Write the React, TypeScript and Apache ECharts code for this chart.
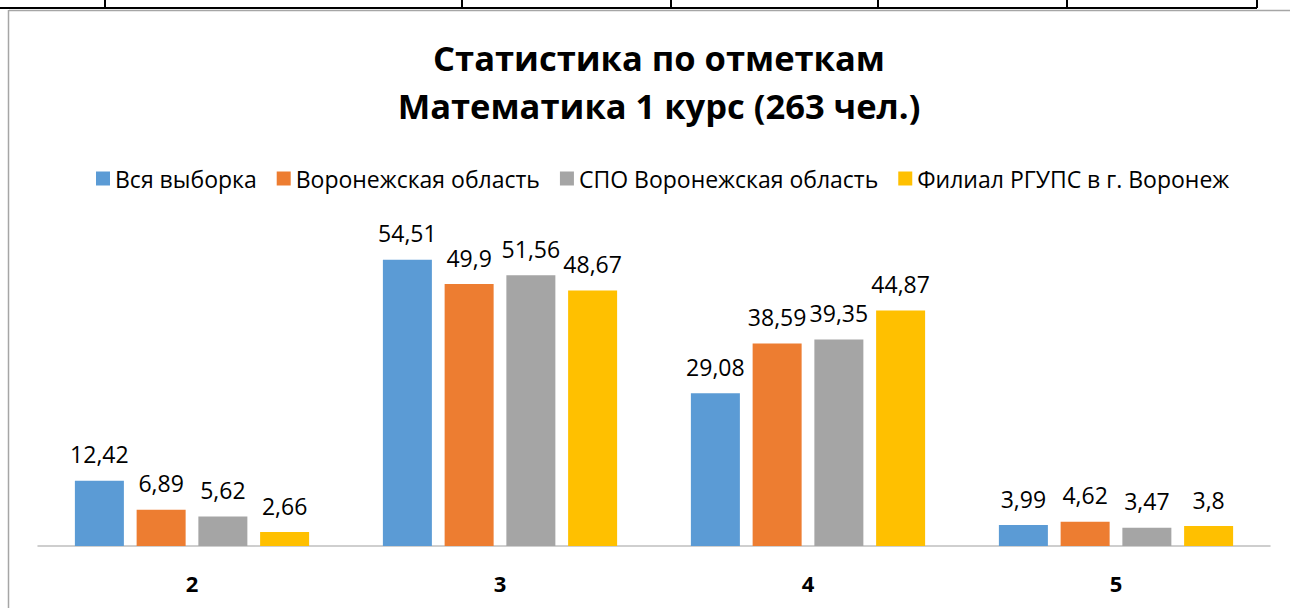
import React, { useEffect, useRef } from "react";
import * as echarts from "echarts";

const categories = ["2", "3", "4", "5"];
const seriesNames = [
  "Вся выборка",
  "Воронежская область",
  "СПО Воронежская область",
  "Филиал РГУПС в г. Воронеж",
];
const allSample = [12.42, 54.51, 29.08, 3.99];
const voronezhRegion = [6.89, 49.9, 38.59, 4.62];
const spoVoronezh = [5.62, 51.56, 39.35, 3.47];
const rgupsBranch = [2.66, 48.67, 44.87, 3.8];
const colors = ["#5B9BD5", "#ED7D31", "#A5A5A5", "#FFC000"];
const titleText = "Статистика по отметкам\nМатематика 1 курс (263 чел.)";

const FONT = "'Open Sans', 'Noto Sans', sans-serif";

export default function App() {
  const ref = useRef<HTMLDivElement>(null);
  useEffect(() => {
    document.body.style.margin = "0";
    const chart = echarts.init(ref.current!, null, { renderer: "svg" });
    const values = [allSample, voronezhRegion, spoVoronezh, rgupsBranch];
    const tableX = [105, 462, 671, 878, 1067, 1257];
    chart.setOption({
      animation: false,
      backgroundColor: "#ffffff",
      textStyle: { fontFamily: FONT },
      title: {
        text: titleText,
        left: 654,
        textAlign: "center",
        top: 28,
        textStyle: {
          fontFamily: FONT,
          fontSize: 34.5,
          fontWeight: "bold",
          lineHeight: 48,
          color: "#000000",
        },
      },
      legend: {
        top: 162,
        left: 91,
        itemWidth: 14,
        itemHeight: 14,
        itemGap: 20,
        icon: "rect",
        textStyle: { fontFamily: FONT, fontSize: 23, color: "#000000" },
        data: seriesNames,
      },
      grid: { left: 38, right: 20, top: 231, bottom: 62, containLabel: false },
      xAxis: {
        type: "category",
        data: categories,
        axisLine: { lineStyle: { color: "#BFBFBF", width: 1.5 } },
        axisTick: { show: false },
        axisLabel: {
          fontFamily: FONT,
          fontSize: 22,
          fontWeight: "bold",
          color: "#000000",
          margin: 26,
        },
      },
      yAxis: {
        type: "value",
        min: 0,
        max: 60,
        interval: 10,
        show: false,
        splitLine: { show: false },
      },
      graphic: [
        { type: "line", shape: { x1: 0, y1: 8, x2: 1257, y2: 8 }, style: { stroke: "#000", lineWidth: 2 } },
        ...tableX.map((x) => ({
          type: "line",
          shape: { x1: x, y1: 0, x2: x, y2: 8 },
          style: { stroke: "#000", lineWidth: 2 },
        })),
        { type: "line", shape: { x1: 9, y1: 10.5, x2: 1290, y2: 10.5 }, style: { stroke: "#A6A6A6", lineWidth: 1.5 } },
        { type: "line", shape: { x1: 8.5, y1: 10, x2: 8.5, y2: 608 }, style: { stroke: "#A6A6A6", lineWidth: 1.5 } },
      ],
      series: seriesNames.map((name, i) => ({
        name,
        type: "bar",
        data: values[i],
        barWidth: 49,
        barGap: "26%",
        itemStyle: { color: colors[i] },
        label: {
          show: true,
          position: "top",
          distance: 15,
          fontFamily: FONT,
          fontSize: 23,
          color: "#000000",
          formatter: (p: any) => String(p.value).replace(".", ","),
        },
      })),
    });
    return () => chart.dispose();
  }, []);
  return (
    <div
      ref={ref}
      style={{ position: "absolute", left: 0, top: 0, width: 1290, height: 608 }}
    />
  );
}
